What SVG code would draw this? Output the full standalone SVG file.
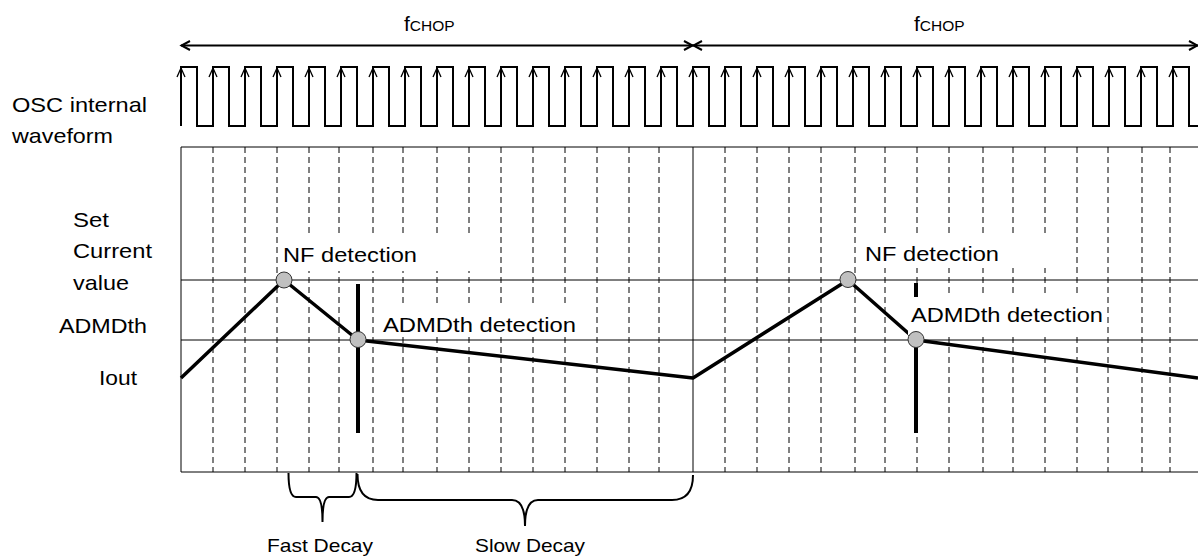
<svg xmlns="http://www.w3.org/2000/svg" xmlns:xlink="http://www.w3.org/1999/xlink" width="1198" height="556" viewBox="0 0 1198 556">
  <style>
    .lbl { font-family: "Liberation Sans", Arial, sans-serif; font-size: 21px; fill: #000; }
    .small { font-family: "Liberation Sans", Arial, sans-serif; font-size: 19px; fill: #000; }
    .thin { stroke: #000; stroke-width: 1; fill: none; }
    .dash { stroke: #000; stroke-width: 1; stroke-dasharray: 6 4; fill: none; }
    .wave { stroke: #000; stroke-width: 2; fill: none; stroke-linejoin: miter; }
    .ah { stroke: #000; stroke-width: 1.3; fill: none; }
    .cur { stroke: #000; stroke-width: 3.5; fill: none; stroke-linejoin: round; }
    .bar { stroke: #000; stroke-width: 4; fill: none; }
    .dot { fill: #c0c0c0; stroke: #333; stroke-width: 1; }
    .mask { fill: #fff; stroke: none; }
    .brace { stroke: #000; stroke-width: 2; fill: none; }
    .arr { stroke: #000; stroke-width: 2; fill: none; }
  </style>
  <defs>
    <path id="ah" class="ah" d="M-4,77 L0,68 L4,77"/>
  </defs>
  <rect width="1198" height="556" fill="#fff"/>

  <!-- period arrows -->
  <g id="fchop">
    <path class="arr" d="M181,45.5 H693 M693,45.5 H1198"/>
    <path class="arr" d="M190,41 L181.5,45.5 L190,50 M684,41 L692.5,45.5 L684,50 M702,41 L693.5,45.5 L702,50 M1189,41 L1197.5,45.5 L1189,50"/>
    <text class="lbl" x="404" y="31">f<tspan font-size="15.5">CHOP</tspan></text>
    <text class="lbl" x="914" y="31">f<tspan font-size="15.5">CHOP</tspan></text>
  </g>

  <!-- left labels -->
  <g id="left-labels">
    <text class="lbl" x="12" y="111.5" textLength="135" lengthAdjust="spacingAndGlyphs">OSC internal</text>
    <text class="lbl" x="12" y="143" textLength="101" lengthAdjust="spacingAndGlyphs">waveform</text>
    <text class="lbl" x="73" y="226.5" textLength="36" lengthAdjust="spacingAndGlyphs">Set</text>
    <text class="lbl" x="73" y="258" textLength="79" lengthAdjust="spacingAndGlyphs">Current</text>
    <text class="lbl" x="73" y="290" textLength="56" lengthAdjust="spacingAndGlyphs">value</text>
    <text class="lbl" x="59" y="333" textLength="88" lengthAdjust="spacingAndGlyphs">ADMDth</text>
    <text class="lbl" x="99" y="385" textLength="38" lengthAdjust="spacingAndGlyphs">Iout</text>
  </g>

  <!-- OSC waveform -->
  <g id="osc">
    <path class="wave" d="M181,126V67H197V126H213V67H229V126H245V67H261V126H277V67H293V126H309V67H325V126H341V67H357V126H373V67H389V126H405V67H421V126H437V67H453V126H469V67H485V126H501V67H517V126H533V67H549V126H565V67H581V126H597V67H613V126H629V67H645V126H661V67H677V126H693V67H709V126H725V67H741V126H757V67H773V126H789V67H805V126H821V67H837V126H853V67H869V126H885V67H901V126H917V67H933V126H949V67H965V126H981V67H997V126H1013V67H1029V126H1045V67H1061V126H1077V67H1093V126H1109V67H1125V126H1141V67H1157V126H1173V67H1189V126H1198"/>
    <use xlink:href="#ah" x="181"/><use xlink:href="#ah" x="213"/><use xlink:href="#ah" x="245"/><use xlink:href="#ah" x="277"/>
    <use xlink:href="#ah" x="309"/><use xlink:href="#ah" x="341"/><use xlink:href="#ah" x="373"/><use xlink:href="#ah" x="405"/>
    <use xlink:href="#ah" x="437"/><use xlink:href="#ah" x="469"/><use xlink:href="#ah" x="501"/><use xlink:href="#ah" x="533"/>
    <use xlink:href="#ah" x="565"/><use xlink:href="#ah" x="597"/><use xlink:href="#ah" x="629"/><use xlink:href="#ah" x="661"/>
    <use xlink:href="#ah" x="693"/><use xlink:href="#ah" x="725"/><use xlink:href="#ah" x="757"/><use xlink:href="#ah" x="789"/>
    <use xlink:href="#ah" x="821"/><use xlink:href="#ah" x="853"/><use xlink:href="#ah" x="885"/><use xlink:href="#ah" x="917"/>
    <use xlink:href="#ah" x="949"/><use xlink:href="#ah" x="981"/><use xlink:href="#ah" x="1013"/><use xlink:href="#ah" x="1045"/>
    <use xlink:href="#ah" x="1077"/><use xlink:href="#ah" x="1109"/><use xlink:href="#ah" x="1141"/><use xlink:href="#ah" x="1173"/>
  </g>

  <!-- grid -->
  <g id="grid">
    <path class="dash" d="M213,147V472M245,147V472M277,147V472M309,147V472M339,147V472M373,147V472M403,147V472M437,147V472M469,147V472M501,147V472M533,147V472M565,147V472M597,147V472M629,147V472M659,147V472"/>
    <path class="dash" d="M725,147V472M757,147V472M789,147V472M821,147V472M855,147V472M885,147V472M917,147V472M949,147V472M983,147V472M1013,147V472M1045,147V472M1077,147V472M1108,147V472M1142,147V472M1170,147V472"/>
    <path class="thin" d="M181,147H1198M181,472H1198M181,147V472M693,147V472M181,280H1198M181,340H1198"/>
  </g>

  <!-- current waveform and detection bars -->
  <g id="connectors">
    <path class="cur" d="M181,378 L284,280 L358,340 L693,378 L848,280 L916,340 L1198,378"/>
    <path class="bar" d="M358,284V433M916,283V433"/>
  </g>

  <!-- label boxes -->
  <g id="nf1">
    <rect class="mask" x="281" y="237" width="203" height="34"/>
    <text class="lbl" x="283" y="262" textLength="134" lengthAdjust="spacingAndGlyphs">NF detection</text>
  </g>
  <g id="admd1">
    <rect class="mask" x="379" y="305" width="203" height="32"/>
    <text class="lbl" x="383" y="332" textLength="193" lengthAdjust="spacingAndGlyphs">ADMDth detection</text>
  </g>
  <g id="nf2">
    <rect class="mask" x="862" y="236" width="203" height="32"/>
    <text class="lbl" x="865" y="261" textLength="134" lengthAdjust="spacingAndGlyphs">NF detection</text>
  </g>
  <g id="admd2">
    <rect class="mask" x="908" y="297" width="197" height="38"/>
    <text class="lbl" x="911" y="322" textLength="192" lengthAdjust="spacingAndGlyphs">ADMDth detection</text>
  </g>

  <!-- detection points -->
  <g id="points">
    <circle class="dot" cx="284" cy="280" r="8"/>
    <circle class="dot" cx="358" cy="339.5" r="8"/>
    <circle class="dot" cx="848" cy="279.5" r="8"/>
    <circle class="dot" cx="916" cy="339.5" r="8"/>
  </g>

  <!-- braces -->
  <g id="fast-decay">
    <path class="brace" d="M288.5,473 Q288.5,497 296,497 H316 Q322.5,497 322.5,522 Q322.5,497 329,497 H349 Q356.5,497 356.5,473"/>
    <text class="small" x="267" y="551.5" textLength="106" lengthAdjust="spacingAndGlyphs">Fast Decay</text>
  </g>
  <g id="slow-decay">
    <path class="brace" d="M357.5,474 Q357.5,500 378,500 H512 Q525,500 525,526 Q525,500 538,500 H672 Q693,500 693,475"/>
    <text class="small" x="475" y="551.5" textLength="110" lengthAdjust="spacingAndGlyphs">Slow Decay</text>
  </g>
</svg>
